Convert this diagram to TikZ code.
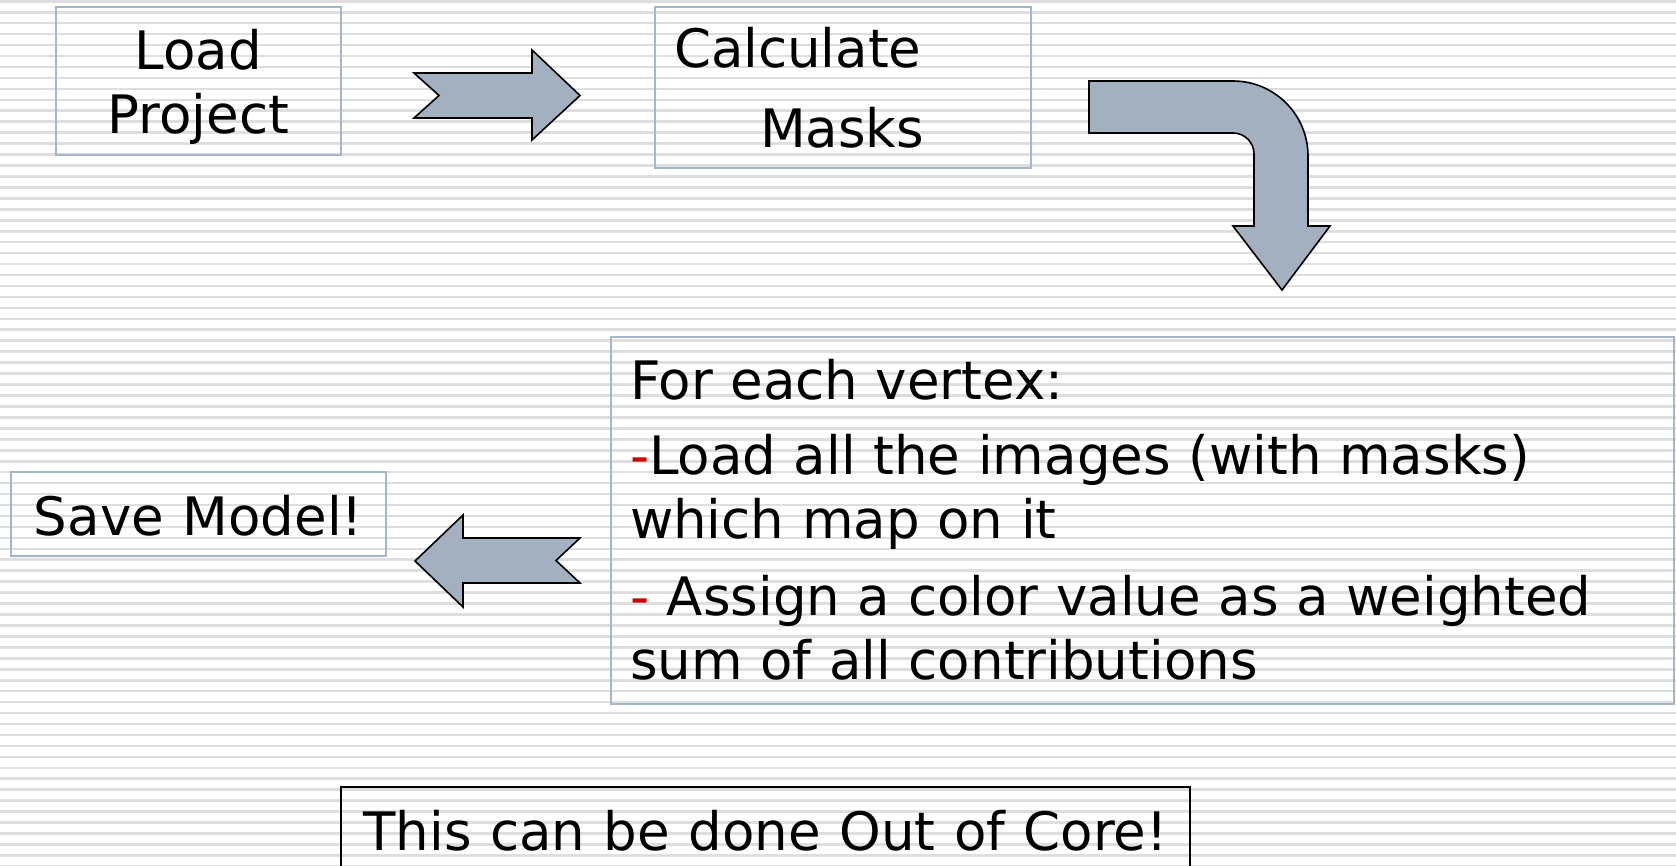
\documentclass[tikz,border=0pt]{standalone}
\usepackage{fontspec}
\setmainfont{DejaVu Sans}[WordSpace=1.1]
\usepackage{tikz}
\definecolor{frameblue}{RGB}{166,181,201}
\definecolor{arrowgray}{RGB}{163,176,191}
\definecolor{stripegray}{RGB}{222,222,222}
\definecolor{dashred}{RGB}{204,0,0}
\newcommand{\stagefont}{\fontsize{26.5pt}{32.25pt}\selectfont}

\begin{document}
\begin{tikzpicture}[x=0.5pt, y=-0.5pt,
    stage/.style={draw=frameblue, line width=1pt, anchor=north west, inner ysep=0pt, font=\stagefont},
    bigarrow/.style={fill=arrowgray, draw=black, line width=0.8pt, line join=miter}]
  \useasboundingbox (0,0) rectangle (1676,866);
  \fill[white] (0,0) rectangle (1676,866);
  \foreach \k in {0,...,79}
    \draw[stripegray, line width=1.3pt] (0,{1.3+10.95*\k}) -- (1676,{1.3+10.95*\k});

  \node (load) [stage, align=center, inner xsep=0pt, text width=142.5pt,
     text height=31.3pt, text depth=42.85pt] at (55,5.7) {Load\\Project};
  \node (calc) [stage, align=left, inner xsep=9.5pt, text width=169pt,
     text height=30.5pt, text depth=50pt] at (654,5.7) {Calculate\\[7.75pt]\hspace*{43pt}Masks};
  \node (vertex) [stage, align=left, inner xsep=9.5pt, text width=512.5pt,
     text height=31pt, text depth=152.5pt] at (610,336)
     {For each vertex:\\[5.5pt]
      \textcolor{dashred}{-}Load all the images (with masks)\\
      which map on it\\[5.75pt]
      \textcolor{dashred}{-} Assign a color value as a weighted\\
      sum of all contributions};
  \node (save) [stage, align=center, inner xsep=0pt, minimum width=187.5pt,
     text height=31.5pt, text depth=10.5pt] at (10,471) {Save Model!};
  \node (core) [stage, draw=black, align=center, inner xsep=0pt, minimum width=424.5pt,
     text height=31.5pt, text depth=30pt] at (340,786) {This can be done Out of Core!};

  \draw[bigarrow] (414,73) -- (532,73) -- (532,50) -- (580,95.5) -- (532,140)
     -- (532,118) -- (414,118) -- (439,95.5) -- cycle;
  \draw[bigarrow] (1089,81) -- (1233,81) arc[start angle=90, end angle=0, radius=37.5pt]
     -- (1308,226) -- (1330,226) -- (1282,290) -- (1233,226) -- (1254,226) -- (1254,154)
     arc[start angle=0, end angle=90, radius=10.5pt] -- (1089,133) -- cycle;
  \draw[bigarrow] (415,561) -- (463,515) -- (463,538) -- (580,538) -- (556,560.5) -- (580,583)
     -- (463,583) -- (463,607) -- cycle;
\end{tikzpicture}
\end{document}
